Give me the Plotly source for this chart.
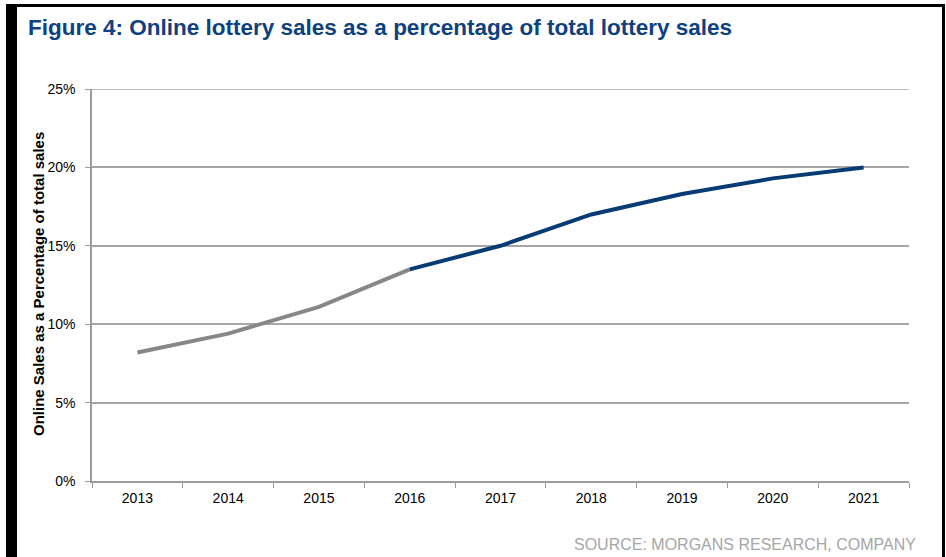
import plotly.graph_objects as go

# Online lottery share of total lottery sales (%)
years = ["2013", "2014", "2015", "2016", "2017", "2018", "2019", "2020", "2021"]
historic_years = years[:4]
historic_pct = [8.2, 9.4, 11.1, 13.5]
forecast_years = years[3:]
forecast_pct = [13.5, 15.0, 17.0, 18.3, 19.3, 20.0]
y_ticks = [0, 5, 10, 15, 20, 25]
y_tick_labels = ["0%", "5%", "10%", "15%", "20%", "25%"]

W, H = 946, 557
L, R, T, B = 92, 909, 89, 481  # plot area in pixels


def px_x(v):
    return (v - L) / (R - L)


def px_y(v):
    return (B - v) / (B - T)


fig = go.Figure()
fig.add_trace(go.Scatter(
    x=historic_years, y=historic_pct, mode="lines",
    line=dict(color="#878787", width=4), hoverinfo="skip", showlegend=False,
))
fig.add_trace(go.Scatter(
    x=forecast_years, y=forecast_pct, mode="lines",
    line=dict(color="#073B73", width=4), hoverinfo="skip", showlegend=False,
))

frame = "#000000"
shapes = [
    # left thick bar
    dict(type="rect", xref="paper", yref="paper",
         x0=px_x(6), x1=px_x(17), y0=px_y(4), y1=px_y(H + 5),
         fillcolor=frame, line=dict(width=0), layer="above"),
    # top rule
    dict(type="rect", xref="paper", yref="paper",
         x0=px_x(6), x1=px_x(945), y0=px_y(4), y1=px_y(7),
         fillcolor=frame, line=dict(width=0), layer="above"),
    # right rule
    dict(type="rect", xref="paper", yref="paper",
         x0=px_x(942), x1=px_x(945), y0=px_y(4), y1=px_y(H + 5),
         fillcolor=frame, line=dict(width=0), layer="above"),
    # top gridline spanning the full plot width
    dict(type="line", xref="paper", yref="y", x0=0, x1=1, y0=25, y1=25,
         line=dict(color="#A6A6A6", width=1.5), layer="below"),
]

fig.update_layout(
    width=W, height=H,
    margin=dict(l=L, r=W - R, t=T, b=H - B, pad=0),
    paper_bgcolor="white", plot_bgcolor="white",
    font=dict(family="Liberation Sans, Arial, sans-serif", size=14, color="#000000"),
    shapes=shapes,
    annotations=[
        dict(text="<b>Figure 4: Online lottery sales as a percentage of total lottery sales</b>",
             xref="paper", yref="paper", x=px_x(26), y=px_y(27),
             xanchor="left", yanchor="middle", showarrow=False,
             font=dict(size=22.5, color="#0E4180")),
        dict(text="<b>Online Sales as a Percentage of total sales</b>",
             xref="paper", yref="paper", x=px_x(38), y=px_y(284),
             xanchor="center", yanchor="middle", textangle=-90, showarrow=False,
             font=dict(size=15, color="#000000")),
        dict(text="SOURCE: MORGANS RESEARCH, COMPANY",
             xref="paper", yref="paper", x=px_x(918), y=px_y(544),
             xanchor="right", yanchor="middle", showarrow=False,
             font=dict(size=16, color="#A6A6A6")),
    ],
)

fig.update_xaxes(
    type="category", categoryorder="array", categoryarray=years,
    range=[-0.5, len(years) - 0.5],
    showline=True, linecolor="#9C9C9C", linewidth=1.5,
    showgrid=False, ticks="outside", tickson="boundaries",
    ticklen=5, tickcolor="#9C9C9C", tickwidth=1, ticklabelstandoff=3,
    tickfont=dict(size=14, color="#000000"),
)
fig.update_yaxes(
    range=[0, 25], tickmode="array", tickvals=y_ticks, ticktext=y_tick_labels,
    showline=True, linecolor="#9C9C9C", linewidth=1.5,
    showgrid=True, gridcolor="#A6A6A6", gridwidth=1.5,
    zeroline=False, ticks="outside", ticklen=5, tickcolor="#9C9C9C",
    ticklabelstandoff=7,
    tickfont=dict(size=14, color="#000000"),
)

fig.write_html("out.html")
